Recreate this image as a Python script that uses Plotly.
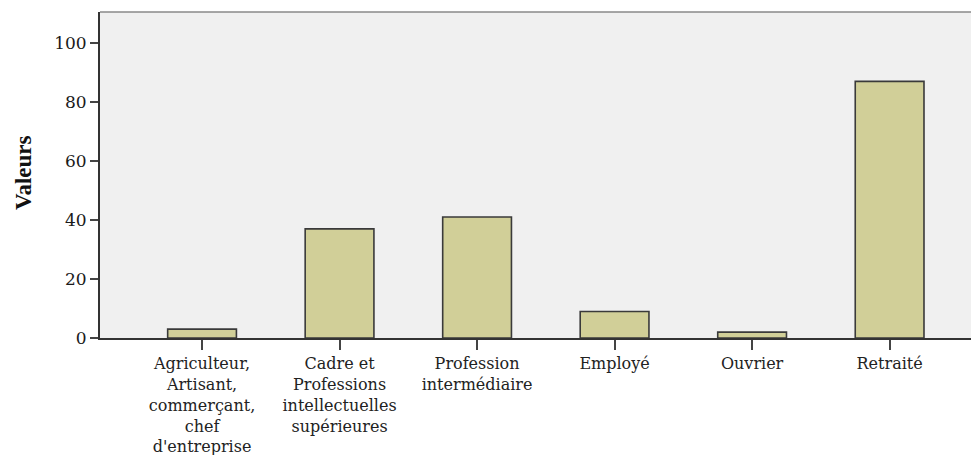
import plotly.graph_objects as go

categories = ["Agriculteur,<br>Artisant,<br>commerçant,<br>chef<br>d'entreprise",
              "Cadre et<br>Professions<br>intellectuelles<br>supérieures",
              "Profession<br>intermédiaire",
              "Employé",
              "Ouvrier",
              "Retraité"]
values = [3, 37, 41, 9, 2, 87]
y_ticks = [0, 20, 40, 60, 80, 100]

BAR_COLOR = '#d1cf98'
BG_COLOR = '#f0f0f0'
AXIS_COLOR = '#333333'

fig = go.Figure()

fig.add_trace(go.Bar(x=list(range(len(categories))),
                     y=values,
                     width=0.5,
                     marker=dict(color=BAR_COLOR,
                                 line=dict(color='#3a3a3a', width=1.6))))

# the page puts the figure 8px in from the corner, so size it to fit the window
fig.update_layout(width=971, height=447,
                  margin=dict(l=92, r=0, t=4, b=117),
                  plot_bgcolor=BG_COLOR,
                  paper_bgcolor='white',
                  showlegend=False,
                  font=dict(family='DejaVu Serif', size=16, color='#222222'))

fig.update_xaxes(range=[-0.742, 5.65],
                 tickmode='array',
                 tickvals=list(range(len(categories))),
                 ticktext=categories,
                 showline=True, linecolor=AXIS_COLOR, linewidth=2,
                 ticks='outside', ticklen=10, tickwidth=2, tickcolor='#444444',
                 showgrid=False, zeroline=False, tickangle=0)

fig.update_yaxes(range=[0, 110.5],
                 tickmode='array',
                 tickvals=y_ticks,
                 showline=True, linecolor=AXIS_COLOR, linewidth=2,
                 ticks='outside', ticklen=8, tickwidth=2, tickcolor='#444444',
                 tickfont=dict(size=17, color='#1a1a1a'),
                 showgrid=False, zeroline=False)

# top border of the plot area
fig.add_shape(type='line', xref='paper', yref='paper',
              x0=0, x1=1, y0=1, y1=1,
              line=dict(color='#8a8a8a', width=1.5))

fig.add_annotation(text='<b>Valeurs</b>', xref='paper', yref='paper',
                   x=-0.0876, y=0.509, textangle=-90, showarrow=False,
                   xanchor='center', yanchor='middle',
                   font=dict(family='Liberation Serif', size=23, color='#111111'))

fig.write_html("out.html")
